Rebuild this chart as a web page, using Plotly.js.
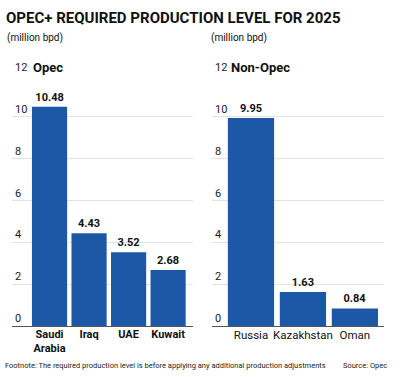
<!DOCTYPE html>
<html>
<head>
<meta charset="utf-8">
<script src="https://cdn.plot.ly/plotly-3.0.1.min.js"></script>
<style>
html,body{margin:0;padding:0;background:#fff;}
#chart{width:400px;height:377px;}
</style>
</head>
<body>
<div id="chart"></div>
<script>
// Data
const opecCountries = ["Saudi Arabia", "Iraq", "UAE", "Kuwait"];
const opecLabels = ["Saudi<br>Arabia", "Iraq", "UAE", "Kuwait"];
const opecValues = [10.48, 4.43, 3.52, 2.68];
const nonOpecCountries = ["Russia", "Kazakhstan", "Oman"];
const nonOpecValues = [9.95, 1.63, 0.84];
const yTicks = [0, 2, 4, 6, 8, 10, 12];

const FONT = 'Roboto, "Liberation Sans", sans-serif';
const BAR = '#1d58a7';
const W = 400, H = 377;
const px = x => x / W;
const py = y => 1 - y / H;

const traces = [
  {
    type: 'bar', x: opecCountries, y: opecValues, xaxis: 'x', yaxis: 'y',
    marker: {color: BAR},
    text: opecValues.map(v => v.toFixed(2)), textposition: 'outside',
    textfont: {family: FONT, size: 11, color: '#111', weight: 'bold'},
    cliponaxis: false, hoverinfo: 'none'
  },
  {
    type: 'bar', x: nonOpecCountries, y: nonOpecValues, xaxis: 'x2', yaxis: 'y2',
    marker: {color: BAR},
    text: nonOpecValues.map(v => v.toFixed(2)), textposition: 'outside',
    textfont: {family: FONT, size: 11, color: '#111', weight: 'bold'},
    cliponaxis: false, hoverinfo: 'none'
  }
];

const yBase = {
  range: [0, 12], tickvals: yTicks, ticktext: yTicks.map(String),
  showgrid: true, gridcolor: '#e2e2e2', gridwidth: 1,
  zeroline: true, zerolinecolor: '#555', zerolinewidth: 1,
  showline: false, ticks: '',
  ticklabelposition: 'inside top', ticklabeloverflow: 'allow',
  tickfont: {family: FONT, size: 11, color: '#222'},
  fixedrange: true
};

const layout = {
  width: W, height: H,
  margin: {l: 0, r: 0, t: 0, b: 0},
  paper_bgcolor: '#fff', plot_bgcolor: '#fff',
  showlegend: false,
  bargap: 0.11,
  xaxis: {
    domain: [px(12), px(193)], anchor: 'y',
    type: 'category', range: [-0.95, 3.63],
    tickvals: opecCountries, ticktext: opecLabels, tickangle: 0,
    tickfont: {family: FONT, size: 11, color: '#111', weight: 'bold'},
    showgrid: false, showline: false, ticks: '', fixedrange: true
  },
  yaxis: Object.assign({}, yBase, {domain: [py(326), py(75)], anchor: 'x'}),
  xaxis2: {
    domain: [px(212), px(384)], anchor: 'y2',
    type: 'category', range: [-0.75, 2.56], tickangle: 0,
    tickfont: {family: FONT, size: 11.5, color: '#111'},
    showgrid: false, showline: false, ticks: '', fixedrange: true
  },
  yaxis2: Object.assign({}, yBase, {domain: [py(326), py(75)], anchor: 'x2'}),
  annotations: [
    {text: 'OPEC+ REQUIRED PRODUCTION LEVEL FOR 2025', xref: 'paper', yref: 'paper',
     x: px(4), y: py(18), xanchor: 'left', yanchor: 'middle', showarrow: false,
     font: {family: FONT, size: 15, color: '#111', weight: 'bold'}},
    {text: '(million bpd)', xref: 'paper', yref: 'paper',
     x: px(5), y: py(38), xanchor: 'left', yanchor: 'middle', showarrow: false,
     font: {family: FONT, size: 10, color: '#111'}},
    {text: '(million bpd)', xref: 'paper', yref: 'paper',
     x: px(209), y: py(38), xanchor: 'left', yanchor: 'middle', showarrow: false,
     font: {family: FONT, size: 10, color: '#111'}},
    {text: 'Opec', xref: 'paper', yref: 'paper',
     x: px(31), y: py(67), xanchor: 'left', yanchor: 'middle', showarrow: false,
     font: {family: FONT, size: 13, color: '#111', weight: 'bold'}},
    {text: 'Non-Opec', xref: 'paper', yref: 'paper',
     x: px(229), y: py(67), xanchor: 'left', yanchor: 'middle', showarrow: false,
     font: {family: FONT, size: 13, color: '#111', weight: 'bold'}},
    {text: 'Footnote: The required production level is before applying any additional production adjustments',
     xref: 'paper', yref: 'paper',
     x: px(3), y: py(365), xanchor: 'left', yanchor: 'middle', showarrow: false,
     font: {family: FONT, size: 7.5, color: '#222'}},
    {text: 'Source: Opec', xref: 'paper', yref: 'paper',
     x: px(389), y: py(365), xanchor: 'right', yanchor: 'middle', showarrow: false,
     font: {family: FONT, size: 7.5, color: '#222'}}
  ]
};

Plotly.newPlot('chart', traces, layout, {staticPlot: true, displayModeBar: false});
</script>
</body>
</html>
